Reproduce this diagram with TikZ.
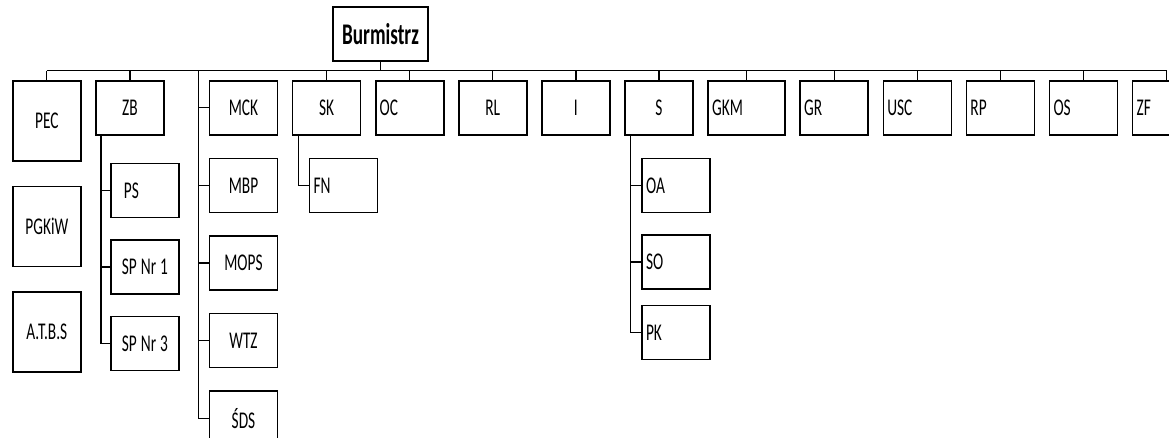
\documentclass[tikz,border=0pt]{standalone}
\usepackage{fontspec}
\newfontfamily\orgfont[FakeStretch=0.64]{Carlito}
\usetikzlibrary{positioning,calc}

\begin{document}
\begin{tikzpicture}[x=1pt,y=-1pt,node distance=22pt and 13.5pt,
box/.style={draw,line width=1.6pt,minimum height=54pt,text width=60pt,inner xsep=4pt,inner ysep=0pt,align=center,font=\orgfont\fontsize{24}{27}\selectfont},
lbox/.style={box,align=left},
tall/.style={minimum height=80pt},
conn/.style={line width=1.3pt}]
\useasboundingbox (0,0) rectangle (1169,437);
% head
\node[box,text width=87pt,font=\orgfont\bfseries\fontsize{30}{34}\selectfont] (burm) at (380.5,34) {Burmistrz};
% first row
\node[box,tall,anchor=north west] (pec) at (12,80) {PEC};
\node[box,tall,below=24pt of pec] (pgkiw) {PGKiW};
\node[box,tall,below=24pt of pgkiw] (atbs) {A.T.B.S};
\node[box,below right=0pt and 13.5pt of pec.north east] (zb) {ZB};
\node[box,right=44pt of zb] (mck) {MCK};
\node[box,right=of mck] (sk) {SK};
\node[lbox,right=of sk] (oc) {OC};
\node[box,right=of oc] (rl) {RL};
\node[box,right=of rl] (i) {I};
\node[box,right=of i] (s) {S};
\node[lbox,right=of s,text width=69pt] (gkm) {GKM};
\node[lbox,right=of gkm] (gr) {GR};
\node[lbox,right=of gr] (usc) {USC};
\node[lbox,right=of usc] (rp) {RP};
\node[lbox,right=of rp] (os) {OS};
\node[lbox,right=of os] (zf) {ZF};
% under ZB
\node[lbox,below right=27pt and 15pt of zb.south west] (ps) {\hspace*{9pt}PS};
\node[box,below=21pt of ps] (spa) {SP\hspace{4pt}Nr\hspace{4pt}1};
\node[box,below=21pt of spa] (spb) {SP\hspace{4pt}Nr\hspace{4pt}3};
% under MCK
\node[box,below=of mck] (mbp) {MBP};
\node[box,below=of mbp] (mops) {MOPS};
\node[box,below=of mops] (wtz) {WTZ};
\node[box,below=of wtz] (sds) {ŚDS};
% under SK and S
\node[lbox,below right=22pt and 17pt of sk.south west] (fn) {FN};
\node[lbox,below right=22pt and 17pt of s.south west] (oa) {OA};
\node[lbox,below=21pt of oa] (so) {SO};
\node[lbox,below=15pt of so] (pk) {PK};
% connectors
\coordinate (bus) at ($(burm.south)+(0,9)$);
\draw[conn] (burm.south) -- (bus);
\draw[conn] (pec.north |- bus) -- (zf.north |- bus);
\foreach \n in {pec,zb,sk,oc,rl,i,s,gkm,gr,usc,rp,os,zf}
  \draw[conn] (\n.north |- bus) -- (\n.north);
\coordinate (mckx) at ($(mck.west)+(-10,0)$);
\foreach \c in {mck,mbp,mops,wtz,sds}
  \draw[conn] (mckx |- bus) |- (\c.west);
\coordinate (zbx) at ($(zb.south west)+(6,0)$);
\foreach \c in {ps,spa,spb}
  \draw[conn] (zbx) |- (\c.west);
\coordinate (skx) at ($(sk.south west)+(7,0)$);
\draw[conn] (skx) |- (fn.west);
\coordinate (sx) at ($(s.south west)+(6,0)$);
\foreach \c in {oa,so,pk}
  \draw[conn] (sx) |- (\c.west);
\end{tikzpicture}
\end{document}
